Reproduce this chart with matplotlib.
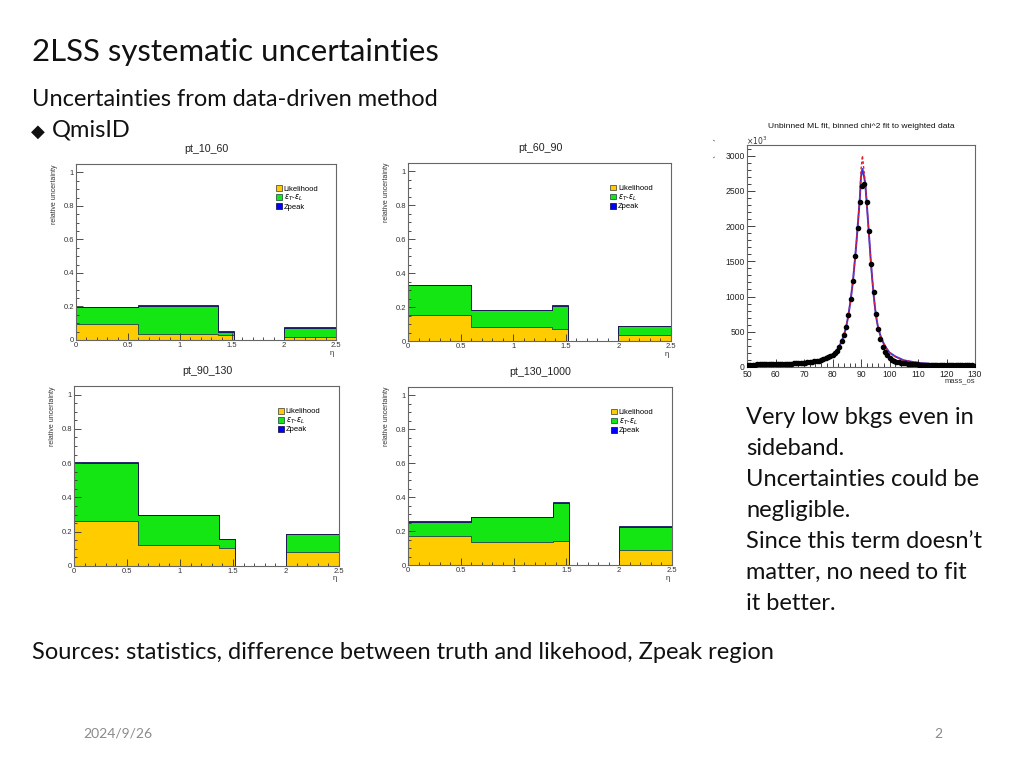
import numpy as np
import matplotlib
matplotlib.use("Agg")
import matplotlib.pyplot as plt
from matplotlib.patches import Patch
from matplotlib.ticker import MultipleLocator
from matplotlib.transforms import Bbox

W, H = 1024, 768

# ---- eta-binned relative uncertainties (stack: likelihood, eff. diff, Zpeak)
eta_edges = [0, 0.6, 1.37, 1.52, 2.0, 2.5]
panel_names = ["pt_10_60", "pt_60_90", "pt_90_130", "pt_130_1000"]
likelihood = [
    [0.093, 0.036, 0.030, 0, 0.018],
    [0.152, 0.085, 0.073, 0, 0.037],
    [0.263, 0.125, 0.107, 0, 0.082],
    [0.173, 0.137, 0.139, 0, 0.088],
]
eff_diff = [
    [0.101, 0.168, 0.020, 0, 0.054],
    [0.179, 0.098, 0.136, 0, 0.052],
    [0.340, 0.171, 0.049, 0, 0.103],
    [0.082, 0.145, 0.228, 0, 0.134],
]
zpeak = [
    [0.002, 0.002, 0.002, 0, 0.003],
    [0.002, 0.002, 0.002, 0, 0.002],
    [0.002, 0.002, 0.002, 0, 0.002],
    [0.002, 0.002, 0.006, 0, 0.011],
]
legend_labels = ["Likelihood", r"$\epsilon_T$-$\epsilon_L$", "Zpeak"]

# ---- Z mass fit (100 bins, 50-130)
mass_edges = np.linspace(50, 130, 101)
mass_counts = [
    34, 34, 35, 35, 36, 36, 37, 37, 38, 38, 39, 40, 40, 41, 42, 43, 44, 45, 47, 48,
    50, 52, 54, 57, 60, 63, 66, 70, 74, 79, 85, 92, 100, 110, 121, 135, 151, 170, 198, 233,
    290, 365, 451, 569, 740, 958, 1223, 1574, 1967, 2342, 2570, 2600, 2342, 1934, 1456,
    1060, 759, 546, 394, 285, 214, 166, 130, 105, 88, 76, 67, 60, 55, 50,
    46, 43, 40, 38, 36, 34, 33, 32, 31, 30, 29, 28, 28, 27, 27, 26, 26, 25, 25, 25,
    24, 24, 24, 23, 23, 23, 22, 22, 22, 21,
]
fit_x = [50, 55, 60, 65, 70, 74, 76, 78, 80, 81.6, 82.4, 83.2, 84, 84.8, 85.6, 86.4,
         87.2, 88, 88.4, 89, 89.6, 90, 90.5, 91, 91.5, 92, 92.5, 93, 93.5, 94, 94.5,
         95, 95.5, 96, 97, 98, 99, 100, 102, 105, 110, 115, 120, 125, 130]
fit_ml = [30, 34, 38, 46, 60, 80, 97, 125, 170, 240, 295, 365, 450, 570, 740, 960,
          1230, 1580, 1770, 2080, 2400, 2700, 2810, 2720, 2600, 2330, 2050, 1760, 1470,
          1220, 1000, 810, 670, 560, 420, 330, 260, 205, 150, 95, 58, 42, 35, 30, 27]
fit_chi2 = [30, 34, 38, 46, 60, 80, 97, 125, 170, 240, 295, 365, 450, 570, 740, 960,
            1230, 1580, 1770, 2080, 2420, 2800, 3000, 2800, 2620, 2330, 2050, 1760, 1470,
            1220, 1000, 810, 670, 560, 420, 330, 260, 205, 150, 95, 58, 42, 35, 30, 27]

notes = ["Very low bkgs even in", "sideband.", "Uncertainties could be",
         "negligible.", "Since this term doesn\u2019t", "matter, no need to fit",
         "it better."]

ROOT_FONT = ["Liberation Sans", "DejaVu Sans"]
SLIDE_FONT = ["Lato", "DejaVu Sans"]
col_like, col_diff, col_z = "#ffcc00", "#14e614", "#0000ff"


def rect(l, t, r, b):
    return [l / W, 1 - b / H, (r - l) / W, (b - t) / H]


def fx(x):
    return x / W


def fy(y):
    return 1 - y / H


fig = plt.figure(figsize=(10.24, 7.68), dpi=100)
fig.patch.set_facecolor("white")

# slide text
fig.text(fx(32), fy(61), "2LSS systematic uncertainties", family=SLIDE_FONT,
         fontsize=22.4, va="baseline", color="#111111")
fig.text(fx(32), fy(106), "Uncertainties from data-driven method", family=SLIDE_FONT,
         fontsize=17, va="baseline", color="#111111")
fig.text(fx(31), fy(137), "\u25c6", family="DejaVu Sans", fontsize=13,
         va="baseline", color="#111111")
fig.text(fx(52), fy(137), "QmisID", family=SLIDE_FONT, fontsize=17,
         va="baseline", color="#111111")
for i, line in enumerate(notes):
    fig.text(fx(746), fy(424 + 31 * i), line, family=SLIDE_FONT, fontsize=17,
             va="baseline", color="#111111")
fig.text(fx(32), fy(659), "Sources: statistics, difference between truth and likehood, Zpeak region",
         family=SLIDE_FONT, fontsize=17, va="baseline", color="#111111")
fig.text(fx(83), fy(738), "2024/9/26", family=SLIDE_FONT, fontsize=10,
         va="baseline", color="#8b8b8b")
fig.text(fx(934), fy(738), "2", family=SLIDE_FONT, fontsize=10,
         va="baseline", color="#8b8b8b")

# ---- four eta panels
panel_rects = [(76, 164, 336, 340), (408, 163, 671, 341),
               (74, 386, 339, 566), (408, 387, 672, 565)]
title_pos = [(206, 149), (540, 148), (207, 371), (540, 372)]

for k, name in enumerate(panel_names):
    l, t, r, b = panel_rects[k]
    ax = fig.add_axes(rect(l, t, r, b))
    like = np.array(likelihood[k])
    diff = np.array(eff_diff[k])
    zp = np.array(zpeak[k])
    ax.stairs(like, eta_edges, baseline=0, fill=True, facecolor=col_like,
              edgecolor="#555544", linewidth=0.7)
    ax.stairs(like + diff, eta_edges, baseline=like, fill=True, facecolor=col_diff,
              edgecolor="#2f5a4a", linewidth=0.7)
    ax.stairs(like + diff + zp, eta_edges, baseline=like + diff, fill=True,
              facecolor=col_z, edgecolor="#1a1a55", linewidth=0.6)
    ax.set_xlim(0, 2.5)
    ax.set_ylim(0, 1.05)
    ax.xaxis.set_major_locator(MultipleLocator(0.5))
    ax.xaxis.set_minor_locator(MultipleLocator(0.1))
    ax.yaxis.set_major_locator(MultipleLocator(0.2))
    ax.yaxis.set_minor_locator(MultipleLocator(0.05))
    ax.set_xticklabels([f"{v:g}" for v in ax.get_xticks()])
    ax.set_yticklabels([f"{v:g}" for v in ax.get_yticks()])
    ax.tick_params(which="both", direction="in", top=False, right=False,
                   labelsize=5.5, colors="#333333", width=0.6, pad=1.5)
    ax.tick_params(which="major", length=5)
    ax.tick_params(which="minor", length=2.5)
    for s in ax.spines.values():
        s.set_color("#666666")
        s.set_linewidth(0.8)
    for lab in ax.get_xticklabels() + ax.get_yticklabels():
        lab.set_family(ROOT_FONT)
    fig.text(fx(title_pos[k][0]), fy(title_pos[k][1]), name, family=ROOT_FONT,
             fontsize=7.7, ha="center", va="center", color="#222222")
    fig.text(fx(l - 21), fy(t), "relative uncertainty", family=ROOT_FONT,
             fontsize=5, rotation=90, ha="center", va="top", color="#333333")
    fig.text(fx(r - 2), fy(b + 13), "\u03b7", family=ROOT_FONT, fontsize=5.5,
             ha="right", va="center", color="#333333")
    handles = [Patch(facecolor=col_like, edgecolor="#555544", linewidth=0.6),
               Patch(facecolor=col_diff, edgecolor="#2f5a4a", linewidth=0.6),
               Patch(facecolor=col_z, edgecolor="#1a1a55", linewidth=0.6)]
    ax.legend(handles, legend_labels, loc="upper left", bbox_to_anchor=(0.755, 0.9),
              frameon=False, prop={"family": ROOT_FONT, "size": 5.5},
              handlelength=0.8, handleheight=0.8, handletextpad=0.2,
              labelspacing=0.0, borderpad=0)

# ---- mass fit panel
axf = fig.add_axes(rect(747, 145, 975, 367))
centers = 0.5 * (mass_edges[:-1] + mass_edges[1:])
axf.plot(centers, mass_counts, "o", color="black", markersize=3.0, zorder=3)
axf.plot(fit_x, fit_chi2, linestyle=(0, (2, 1.5)), color="#e8202a", linewidth=1.0, zorder=2)
axf.plot(fit_x, fit_ml, color="#3b2fd6", linewidth=1.4, zorder=1)
axf.set_xlim(50, 130)
axf.set_ylim(0, 3150)
axf.xaxis.set_major_locator(MultipleLocator(10))
axf.xaxis.set_minor_locator(MultipleLocator(2))
axf.yaxis.set_major_locator(MultipleLocator(500))
axf.yaxis.set_minor_locator(MultipleLocator(100))
axf.tick_params(which="both", direction="in", top=False, right=False,
                labelsize=6.2, colors="#222222", width=0.6, pad=1.5)
axf.tick_params(axis="x", which="major", pad=2.5)
axf.tick_params(which="major", length=6)
axf.tick_params(which="minor", length=3)
for lab in axf.get_xticklabels() + axf.get_yticklabels():
    lab.set_family(ROOT_FONT)
for s in axf.spines.values():
    s.set_color("#666666")
    s.set_linewidth(0.8)
fig.text(fx(861), fy(127), "Unbinned ML fit, binned chi^2 fit to weighted data",
         family=ROOT_FONT, fontsize=6.1, ha="center", va="center", color="#111111")
fig.text(fx(746), fy(141), r"$\times10^{3}$", family=ROOT_FONT, fontsize=5.5,
         ha="left", va="center", color="#333333")
fig.text(fx(975), fy(381), "mass_os", family=ROOT_FONT, fontsize=5.5,
         ha="right", va="center", color="#333333")
ylab = fig.text(fx(713), fy(138), "Events / ( 0.8 )", family=ROOT_FONT,
                fontsize=5.5, rotation=90, ha="center", va="top", color="#444444")
ylab.set_clip_box(Bbox.from_extents(713, 0, W, H))
ylab.set_clip_on(True)

fig.savefig("out.png", dpi=100)
